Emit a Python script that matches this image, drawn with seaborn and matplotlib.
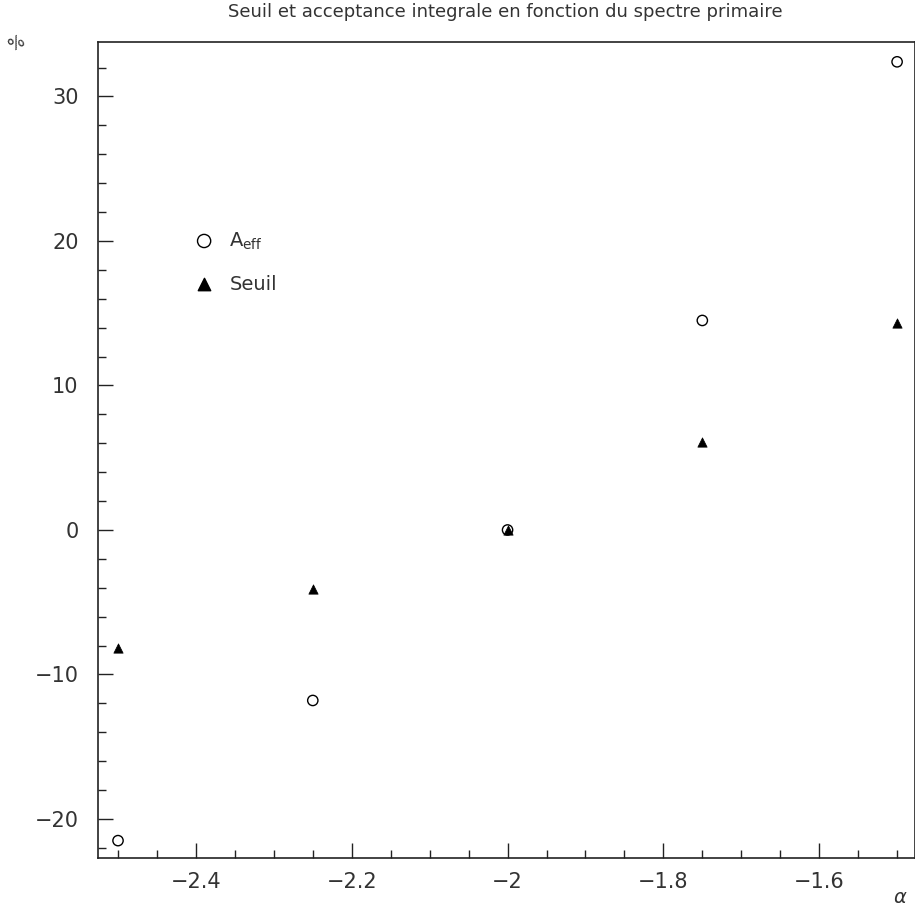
"""Seuil et acceptance integrale vs spectral index alpha."""

import matplotlib
matplotlib.use("Agg")
import matplotlib.pyplot as plt
from matplotlib.ticker import MultipleLocator, FuncFormatter
import pandas as pd
import seaborn as sns

# data
alpha = [-2.5, -2.25, -2.0, -1.75, -1.5]
aeff = [-21.5, -11.8, 0.0, 14.5, 32.4]
seuil = [-8.2, -4.1, 0.0, 6.1, 14.3]
x_ticks = [-2.4, -2.2, -2.0, -1.8, -1.6]
y_ticks = [-20, -10, 0, 10, 20, 30]

df = pd.DataFrame({"alpha": alpha * 2, "val": aeff + seuil,
                   "serie": ["Aeff"] * len(alpha) + ["Seuil"] * len(alpha)})

sns.set_theme(style="ticks")
plt.rcParams["font.family"] = ["DejaVu Sans"]
txt = "#333333"

fig = plt.figure(figsize=(9.15, 9.18), dpi=100)
ax = fig.add_axes([0.1071, 0.0654, 0.893, 0.8893])

sns.scatterplot(data=df[df.serie == "Aeff"], x="alpha", y="val", marker="o", s=55,
                facecolors="none", edgecolor="black", linewidth=1.0, ax=ax, legend=False, zorder=3)
sns.scatterplot(data=df[df.serie == "Seuil"], x="alpha", y="val", marker="^", s=45,
                color="black", edgecolor="black", linewidth=0.5, ax=ax, legend=False, zorder=4)

ax.set_xlim(-2.5257, -1.4769)
ax.set_ylim(-22.7, 33.8)
ax.set_xticks(x_ticks)
ax.set_yticks(y_ticks)
ax.xaxis.set_minor_locator(MultipleLocator(0.05))
ax.yaxis.set_minor_locator(MultipleLocator(2))
fmt = FuncFormatter(lambda v, p: ("%g" % v).replace("-", "\u2212"))
ax.xaxis.set_major_formatter(fmt)
ax.yaxis.set_major_formatter(fmt)
ax.tick_params(which="both", bottom=True, left=True, top=False, right=False)
ax.tick_params(which="major", direction="in", length=11, width=1.0, color="#222222",
               labelsize=15, labelcolor=txt, pad=14)
ax.tick_params(which="minor", direction="in", length=5.5, width=1.0, color="#222222")
ax.tick_params(axis="x", which="major", pad=10)
for sp in ax.spines.values():
    sp.set_color("#222222"); sp.set_linewidth(1.2)
ax.set_xlabel(""); ax.set_ylabel("")

fig.text(0.5519, 0.987, "Seuil et acceptance integrale en fonction du spectre primaire",
         ha="center", va="center", fontsize=13, color=txt)
fig.text(0.992, 0.012, r"$\alpha$", ha="right", va="bottom", fontsize=14, color=txt)
fig.text(0.018, 0.952, "%", ha="center", va="center", fontsize=12, color=txt, rotation=30)

# legend drawn by hand
ax.scatter([-2.3895], [20.0], marker="o", s=90, facecolors="none", edgecolors="black", linewidth=1.0)
ax.scatter([-2.3895], [17.0], marker="^", s=80, color="black")
ax.text(-2.357, 20.0, r"A$_{\mathregular{eff}}$", va="center", fontsize=14, color=txt)
ax.text(-2.357, 17.0, "Seuil", va="center", fontsize=14, color=txt)

fig.savefig("out.png", dpi=100)
